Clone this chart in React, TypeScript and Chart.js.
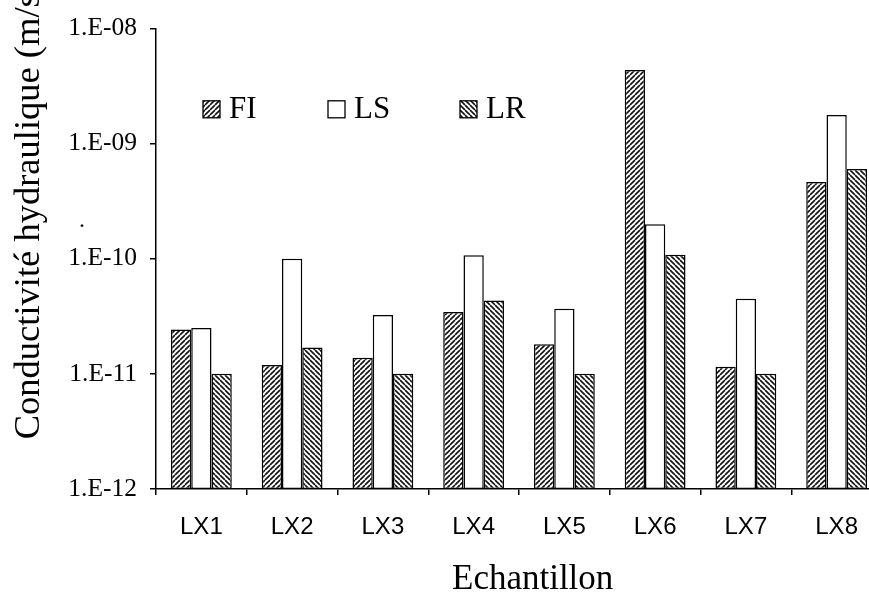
import React, { useEffect, useRef } from 'react';
import { Chart, registerables } from 'chart.js';

Chart.register(...registerables);

const categories = ['LX1', 'LX2', 'LX3', 'LX4', 'LX5', 'LX6', 'LX7', 'LX8'];
const seriesNames = ['FI', 'LS', 'LR'];
const fiValues = [2.42e-11, 1.19e-11, 1.38e-11, 3.45e-11, 1.81e-11, 4.35e-9, 1.15e-11, 4.63e-10];
const lsValues = [2.5e-11, 1.0e-10, 3.24e-11, 1.07e-10, 3.67e-11, 1.99e-10, 4.48e-11, 1.77e-9];
const lrValues = [1.0e-11, 1.69e-11, 1.0e-11, 4.33e-11, 1.0e-11, 1.08e-10, 1.0e-11, 6.0e-10];
const yTickValues = [1e-12, 1e-11, 1e-10, 1e-9, 1e-8];
const xTitle = 'Echantillon';
const yTitle = 'Conductivité hydraulique (m/s)';
const strayMark = '.';

const SERIF = '"Liberation Serif", "Times New Roman", serif';
const SANS = '"Liberation Sans", Arial, sans-serif';

function makeHatch(dir: 'up' | 'down'): CanvasPattern | string {
  const s = 5;
  const c = document.createElement('canvas');
  c.width = s;
  c.height = s;
  const g = c.getContext('2d');
  if (!g) return '#888';
  g.fillStyle = '#fff';
  g.fillRect(0, 0, s, s);
  g.strokeStyle = '#111';
  g.lineWidth = 1.6;
  g.beginPath();
  for (let k = -1; k <= 1; k++) {
    if (dir === 'up') {
      g.moveTo(k * s, s);
      g.lineTo(k * s + s, 0);
    } else {
      g.moveTo(k * s, 0);
      g.lineTo(k * s + s, s);
    }
  }
  g.stroke();
  const p = g.createPattern(c, 'repeat');
  return p || '#888';
}

function formatTick(v: number): string {
  const e = Math.round(Math.log10(v));
  const abs = Math.abs(e);
  return '1.E' + (e < 0 ? '-' : '+') + String(abs).padStart(2, '0');
}

const decorPlugin = {
  id: 'decor',
  afterDraw(chart: any) {
    const { ctx, chartArea } = chart;
    ctx.save();
    // y axis title
    ctx.save();
    ctx.translate(chartArea.left - 127, chartArea.top + 411);
    ctx.rotate(-Math.PI / 2);
    ctx.font = '36.5px ' + SERIF;
    ctx.fillStyle = '#000';
    ctx.textAlign = 'left';
    ctx.textBaseline = 'middle';
    ctx.fillText(yTitle, 0, 0);
    ctx.restore();
    // x axis title
    ctx.font = '35px ' + SERIF;
    ctx.fillStyle = '#000';
    ctx.textAlign = 'left';
    ctx.textBaseline = 'alphabetic';
    ctx.fillText(xTitle, chartArea.left + 296, chartArea.bottom + 100);
    // stray mark
    ctx.font = '24px ' + SERIF;
    ctx.textAlign = 'center';
    ctx.fillText(strayMark, chartArea.left - 74, chartArea.top + 199);
    // legend
    const offsets = [47, 172, 304];
    const cy = chartArea.top + 81;
    const box = 17;
    chart.data.datasets.forEach((ds: any, i: number) => {
      const x = chartArea.left + offsets[i];
      ctx.fillStyle = ds.backgroundColor;
      ctx.fillRect(x, cy - box / 2, box, box);
      ctx.strokeStyle = '#000';
      ctx.lineWidth = 1.3;
      ctx.strokeRect(x, cy - box / 2, box, box);
      ctx.fillStyle = '#000';
      ctx.font = '31px ' + SERIF;
      ctx.textAlign = 'left';
      ctx.textBaseline = 'middle';
      ctx.fillText(ds.label, x + box + 9, cy + 1);
    });
    ctx.restore();
  },
};

export default function App() {
  const ref = useRef<HTMLCanvasElement | null>(null);

  useEffect(() => {
    if (!ref.current) return;
    const fills = [makeHatch('up'), '#ffffff', makeHatch('down')];
    const values = [fiValues, lsValues, lrValues];
    const chart = new Chart(ref.current, {
      type: 'bar',
      data: {
        labels: categories,
        datasets: seriesNames.map((name, i) => ({
          label: name,
          data: values[i],
          backgroundColor: fills[i] as any,
          borderColor: '#000',
          borderWidth: 1.5,
          borderSkipped: false,
          barPercentage: 1.0,
          categoryPercentage: 0.67,
        })),
      },
      options: {
        responsive: false,
        animation: false,
        layout: { padding: { left: 0, top: 25, right: 8, bottom: 0 } },
        plugins: {
          legend: { display: false },
          tooltip: { enabled: false },
        },
        scales: {
          x: {
            afterFit: (s: any) => {
              s.height = 104;
            },
            grid: {
              drawOnChartArea: false,
              drawTicks: true,
              tickLength: 6,
              color: '#000',
              lineWidth: 1.5,
              offset: true,
            },
            border: { display: true, color: '#000', width: 1.5 },
            ticks: {
              color: '#000',
              font: { family: SANS, size: 24 },
              padding: 18,
            },
          },
          y: {
            type: 'logarithmic',
            min: 1e-12,
            max: 1e-8,
            afterBuildTicks: (s: any) => {
              s.ticks = yTickValues.map((v) => ({ value: v }));
            },
            afterFit: (s: any) => {
              s.width = 156;
            },
            grid: {
              drawOnChartArea: false,
              drawTicks: true,
              tickLength: 6,
              color: '#000',
              lineWidth: 1.5,
            },
            border: { display: true, color: '#000', width: 1.5 },
            ticks: {
              color: '#000',
              font: { family: SERIF, size: 25.5 },
              padding: 13,
              autoSkip: false,
              callback: (v: any) => formatTick(Number(v)),
            },
          },
        },
      },
      plugins: [decorPlugin],
    });
    return () => chart.destroy();
  }, []);

  return (
    <div
      style={{
        position: 'fixed',
        left: 0,
        top: 0,
        width: 869,
        height: 593,
        overflow: 'hidden',
        background: '#fff',
      }}
    >
      <canvas ref={ref} width={890} height={593} style={{ display: 'block' }} />
    </div>
  );
}
